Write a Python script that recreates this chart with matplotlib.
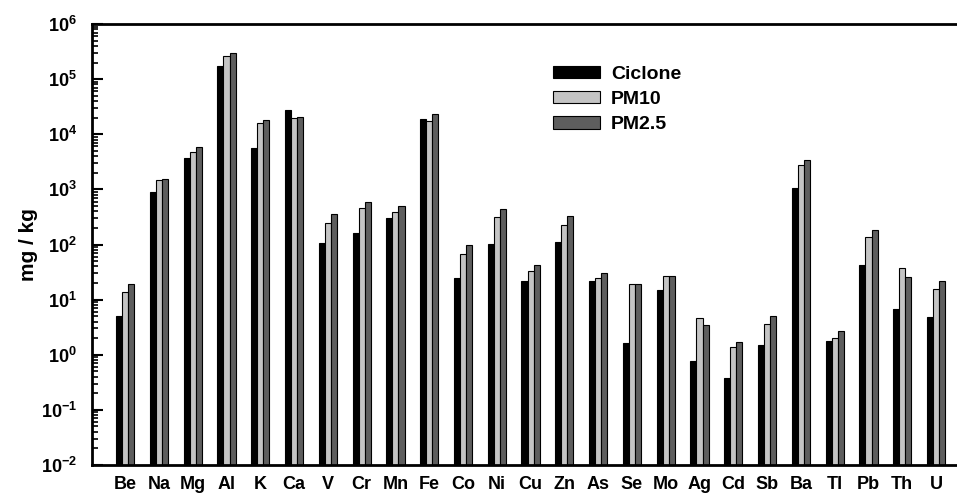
import numpy as np
import matplotlib
matplotlib.use("Agg")
import matplotlib.pyplot as plt
from matplotlib.ticker import FixedLocator, FuncFormatter, NullFormatter

plt.rcParams['font.family'] = ['Liberation Sans', 'DejaVu Sans']
plt.rcParams['font.weight'] = 'bold'
plt.rcParams['mathtext.fontset'] = 'custom'
plt.rcParams['mathtext.rm'] = 'Liberation Sans:bold'
plt.rcParams['mathtext.it'] = 'Liberation Sans:bold'
plt.rcParams['mathtext.bf'] = 'Liberation Sans:bold'

# element concentrations, mg/kg
elements = ['Be', 'Na', 'Mg', 'Al', 'K', 'Ca', 'V', 'Cr', 'Mn', 'Fe', 'Co', 'Ni', 'Cu',
            'Zn', 'As', 'Se', 'Mo', 'Ag', 'Cd', 'Sb', 'Ba', 'Tl', 'Pb', 'Th', 'U']
ciclone = [5.0, 910, 3660, 1.75e5, 5560, 2.73e4, 107, 161, 298, 1.87e4, 24.8, 104, 22.2,
           112, 21.5, 1.61, 15.2, 0.78, 0.38, 1.52, 1043, 1.75, 43.3, 6.9, 4.9]
pm10 = [13.8, 1460, 4840, 2.62e5, 1.6e4, 2.01e4, 244, 451, 382, 1.77e4, 66.6, 319, 33.2,
        225, 24.8, 19.3, 26.5, 4.71, 1.38, 3.56, 2730, 2.04, 134, 37.7, 15.6]
pm25 = [19.3, 1515, 5890, 2.93e5, 1.82e4, 2.06e4, 356, 588, 505, 2.31e4, 98.7, 433, 42.7,
        327, 30.1, 19.3, 27.3, 3.41, 1.67, 5.05, 3460, 2.69, 185, 26.2, 21.8]
decades = list(range(-2, 7))

series = [('Ciclone', ciclone, '#000000'),
          ('PM10', pm10, '#c4c4c4'),
          ('PM2.5', pm25, '#5e5e5e')]

fig = plt.figure(figsize=(9.57, 4.99), dpi=100)
ax = fig.add_axes([92 / 957, 1 - 465 / 499, 1 - 92 / 957, (465 - 24) / 499])

x = np.arange(len(elements))
w = 0.18
for k, (name, vals, col) in enumerate(series):
    ax.bar(x + (k - 1) * w, vals, width=w, color=col, edgecolor='black',
           linewidth=0.8, label=name)

ax.set_yscale('log')
ax.set_ylim(1e-2, 1e6)
ax.set_xlim(-0.98, 24.62)

major = [10.0 ** d for d in decades]
minor = [m * 10.0 ** d for d in decades[:-1] for m in range(2, 10)]
ax.yaxis.set_major_locator(FixedLocator(major))
ax.yaxis.set_minor_locator(FixedLocator(minor))
ax.yaxis.set_major_formatter(FuncFormatter(lambda v, p: r'$10^{%d}$' % round(np.log10(v))))
ax.yaxis.set_minor_formatter(NullFormatter())

ax.set_xticks(x)
ax.set_xticklabels(elements, fontsize=13, fontweight='bold')
ax.tick_params(axis='x', length=0, pad=8)
ax.tick_params(axis='y', which='major', direction='in', length=8, width=1.5,
               labelsize=13, pad=11)
ax.tick_params(axis='y', which='minor', direction='in', length=4.5, width=1.2)

for side in ['left', 'bottom', 'top']:
    ax.spines[side].set_linewidth(2)
ax.spines['right'].set_visible(False)

ax.set_ylabel('mg / kg', fontsize=15, fontweight='bold', labelpad=2)

ax.legend(loc='upper left', bbox_to_anchor=(553 / 957, 1 - 66 / 499),
          bbox_transform=fig.transFigure, frameon=False,
          handlelength=2.42, handleheight=0.58, labelspacing=0.42,
          handletextpad=0.55, borderpad=0, borderaxespad=0,
          prop={'weight': 'bold', 'size': 14})

fig.savefig('out.png', dpi=100)
